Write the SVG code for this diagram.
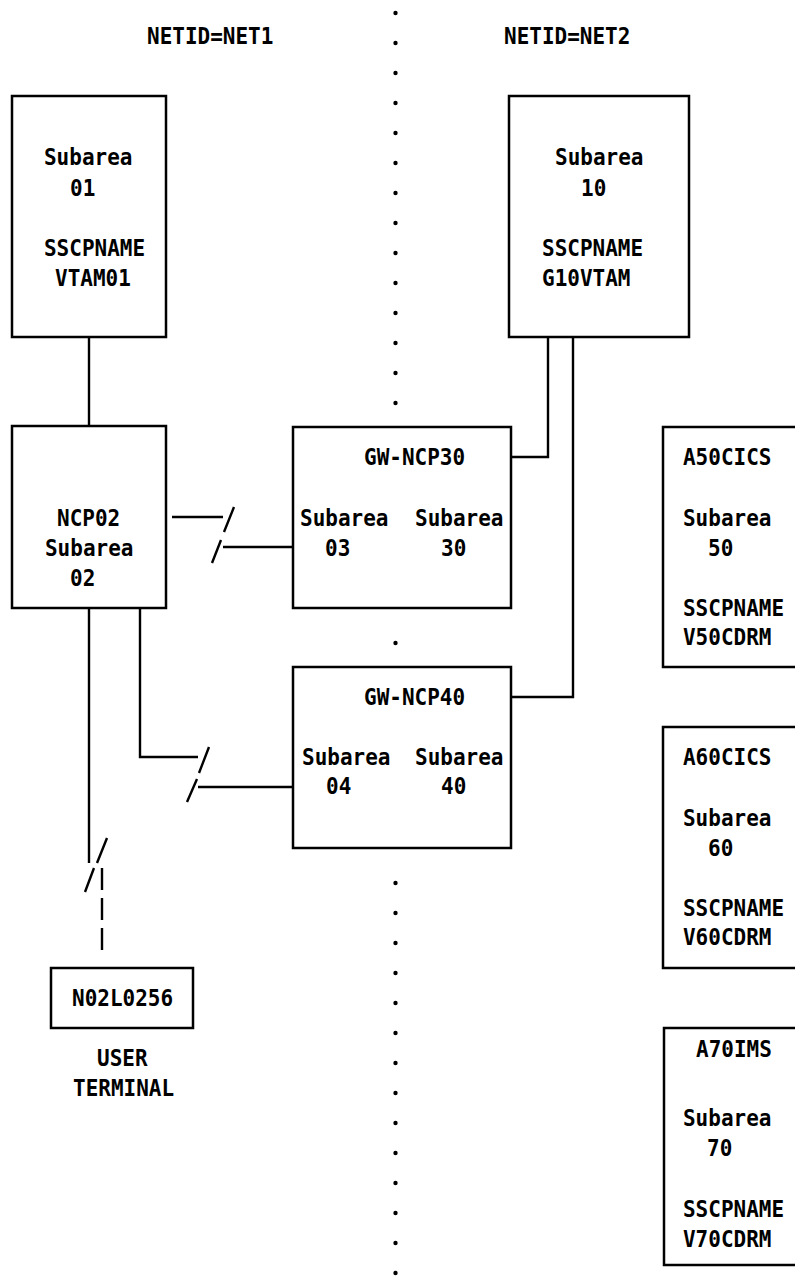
<svg xmlns="http://www.w3.org/2000/svg" width="795" height="1277" viewBox="0 0 795 1277">
<style>
.t{font-family:"DejaVu Sans Mono","Liberation Mono",monospace;font-weight:bold;font-size:21px;fill:#000;transform-box:fill-box;transform-origin:50% 100%;transform:scaleY(1.12)}
.b{fill:#fff;stroke:#000;stroke-width:2.5}
.c{fill:none;stroke:#000;stroke-width:2.4}
.d{fill:none;stroke:#000;stroke-width:2.4;stroke-dasharray:22 8}
.dot{fill:#000}
</style>
<rect x="0" y="0" width="795" height="1277" fill="#fff"/>
<g id="divider">
<circle class="dot" cx="395.5" cy="13" r="2.2"/><circle class="dot" cx="395.5" cy="43" r="2.2"/><circle class="dot" cx="395.5" cy="73" r="2.2"/><circle class="dot" cx="395.5" cy="103" r="2.2"/><circle class="dot" cx="395.5" cy="133" r="2.2"/><circle class="dot" cx="395.5" cy="163" r="2.2"/><circle class="dot" cx="395.5" cy="193" r="2.2"/><circle class="dot" cx="395.5" cy="223" r="2.2"/><circle class="dot" cx="395.5" cy="253" r="2.2"/><circle class="dot" cx="395.5" cy="283" r="2.2"/><circle class="dot" cx="395.5" cy="313" r="2.2"/><circle class="dot" cx="395.5" cy="343" r="2.2"/><circle class="dot" cx="395.5" cy="373" r="2.2"/><circle class="dot" cx="395.5" cy="403" r="2.2"/>
<circle class="dot" cx="395.5" cy="643" r="2.2"/>
<circle class="dot" cx="395.5" cy="883" r="2.2"/><circle class="dot" cx="395.5" cy="913" r="2.2"/><circle class="dot" cx="395.5" cy="943" r="2.2"/><circle class="dot" cx="395.5" cy="973" r="2.2"/><circle class="dot" cx="395.5" cy="1003" r="2.2"/><circle class="dot" cx="395.5" cy="1033" r="2.2"/><circle class="dot" cx="395.5" cy="1063" r="2.2"/><circle class="dot" cx="395.5" cy="1093" r="2.2"/><circle class="dot" cx="395.5" cy="1123" r="2.2"/><circle class="dot" cx="395.5" cy="1153" r="2.2"/><circle class="dot" cx="395.5" cy="1183" r="2.2"/><circle class="dot" cx="395.5" cy="1213" r="2.2"/><circle class="dot" cx="395.5" cy="1243" r="2.2"/><circle class="dot" cx="395.5" cy="1273" r="2.2"/>
</g>
<g id="netlabels">
<text class="t" x="147" y="45">NETID=NET1</text>
<text class="t" x="504" y="45">NETID=NET2</text>
</g>
<g id="connectors">
<path class="c" d="M89 337V427"/>
<path class="c" d="M548 337V457H511"/>
<path class="c" d="M573 337V697H511"/>
<path class="c" d="M172 517H223M234 507L224 532M221 540L212 563M223 547H293"/>
<path class="c" d="M140 608V757H198M209 747L199 773M197 779L187 802M198 787H293"/>
<path class="c" d="M89 608V863M107 838L97 863M94 868L85 892"/>
<path class="d" d="M102 868V951"/>
</g>
<g id="vtam01">
<rect class="b" x="12" y="96" width="154" height="241"/>
<text class="t" x="44" y="166">Subarea</text>
<text class="t" x="70" y="197">01</text>
<text class="t" x="44" y="257">SSCPNAME</text>
<text class="t" x="55" y="287">VTAM01</text>
</g>
<g id="g10vtam">
<rect class="b" x="509" y="96" width="180" height="241"/>
<text class="t" x="555" y="166">Subarea</text>
<text class="t" x="581" y="197">10</text>
<text class="t" x="542" y="257">SSCPNAME</text>
<text class="t" x="542" y="287">G10VTAM</text>
</g>
<g id="ncp02">
<rect class="b" x="12" y="426" width="154" height="182"/>
<text class="t" x="57" y="527">NCP02</text>
<text class="t" x="45" y="557">Subarea</text>
<text class="t" x="70" y="587">02</text>
</g>
<g id="gwncp30">
<rect class="b" x="293" y="427" width="218" height="181"/>
<text class="t" x="364" y="466">GW-NCP30</text>
<text class="t" x="300" y="527">Subarea</text>
<text class="t" x="325" y="557">03</text>
<text class="t" x="415" y="527">Subarea</text>
<text class="t" x="441" y="557">30</text>
</g>
<g id="gwncp40">
<rect class="b" x="293" y="667" width="218" height="181"/>
<text class="t" x="364" y="706">GW-NCP40</text>
<text class="t" x="302" y="766">Subarea</text>
<text class="t" x="326" y="795">04</text>
<text class="t" x="415" y="766">Subarea</text>
<text class="t" x="441" y="795">40</text>
</g>
<g id="a50cics">
<rect class="b" x="663" y="427" width="140" height="240"/>
<text class="t" x="683" y="466">A50CICS</text>
<text class="t" x="683" y="527">Subarea</text>
<text class="t" x="708" y="557">50</text>
<text class="t" x="683" y="617">SSCPNAME</text>
<text class="t" x="683" y="646">V50CDRM</text>
</g>
<g id="a60cics">
<rect class="b" x="663" y="727" width="140" height="241"/>
<text class="t" x="683" y="766">A60CICS</text>
<text class="t" x="683" y="827">Subarea</text>
<text class="t" x="708" y="857">60</text>
<text class="t" x="683" y="917">SSCPNAME</text>
<text class="t" x="683" y="946">V60CDRM</text>
</g>
<g id="a70ims">
<rect class="b" x="664" y="1028" width="140" height="237"/>
<text class="t" x="696" y="1058">A70IMS</text>
<text class="t" x="683" y="1127">Subarea</text>
<text class="t" x="707" y="1157">70</text>
<text class="t" x="683" y="1218">SSCPNAME</text>
<text class="t" x="683" y="1248">V70CDRM</text>
</g>
<g id="terminal">
<rect class="b" x="51" y="968" width="142" height="60"/>
<text class="t" x="72" y="1007">N02L0256</text>
<text class="t" x="97" y="1067">USER</text>
<text class="t" x="73" y="1097">TERMINAL</text>
</g>
</svg>
